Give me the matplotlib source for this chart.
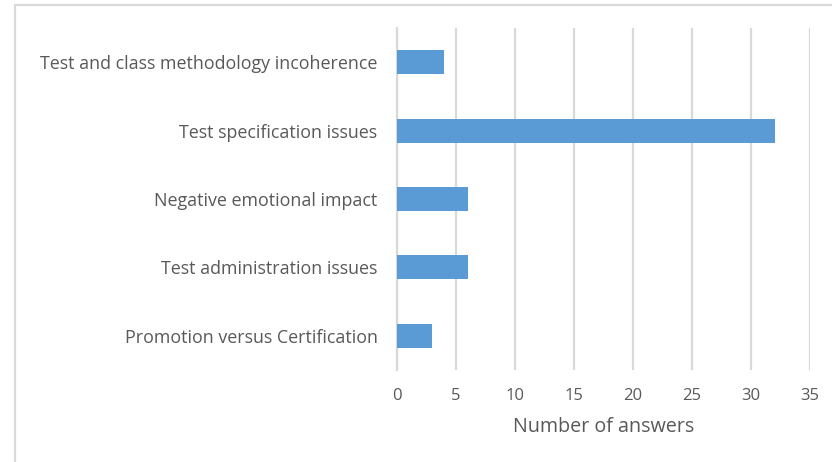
import matplotlib.pyplot as plt
from matplotlib.patches import Rectangle

categories = [
    'Promotion versus Certification',
    'Test administration issues',
    'Negative emotional impact',
    'Test specification issues',
    'Test and class methodology incoherence',
]
answers = [3, 6, 6, 32, 4]
x_ticks = [0, 5, 10, 15, 20, 25, 30, 35]

plt.rcParams['font.family'] = ['Open Sans', 'DejaVu Sans']
text_color = '#595959'
grid_color = '#D9D9D9'

fig = plt.figure(figsize=(8.32, 4.62), dpi=100)
ax = fig.add_axes([397/832, 1-370/462, (810-397)/832, (370-28)/462])

ax.barh(categories, answers, height=0.35, color='#5B9BD5', zorder=3)

ax.set_xlim(0, 35)
ax.set_ylim(-0.5, len(categories) - 0.5)
ax.set_xticks(x_ticks)
ax.grid(True, axis='x', color=grid_color, linewidth=1.6, zorder=0)
ax.tick_params(axis='both', length=0, colors=text_color, labelsize=12)
ax.tick_params(axis='y', pad=14, labelsize=12.9)
ax.tick_params(axis='x', pad=13)
for s in ['top', 'right', 'bottom']:
    ax.spines[s].set_visible(False)
ax.spines['left'].set_color(grid_color)
ax.spines['left'].set_linewidth(1.6)

ax.set_xlabel('Number of answers', color=text_color, fontsize=14.2, labelpad=9)

# chart frame
fig.patches.append(Rectangle((15/832, -0.1), 1.2, 1 - 5/462 + 0.1,
                             transform=fig.transFigure, fill=False,
                             edgecolor=grid_color, linewidth=1.6))

plt.savefig('out.png', dpi=100)
